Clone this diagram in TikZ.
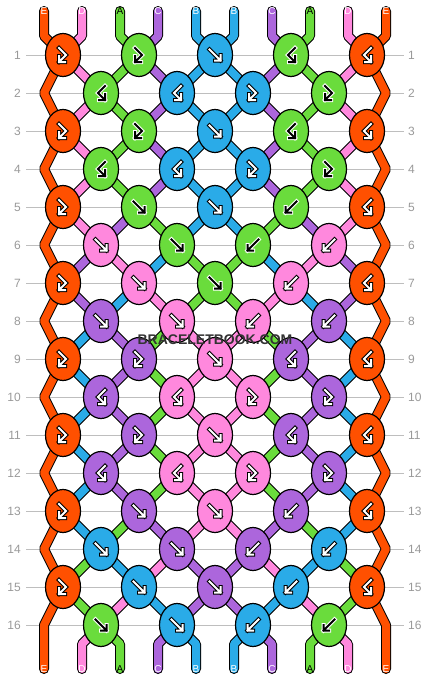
\documentclass[tikz,border=0pt]{standalone}
\usepackage{fontspec}
\setmainfont{Liberation Sans}
\usetikzlibrary{shapes.geometric}

\definecolor{thrA}{HTML}{6ADC3C}
\definecolor{thrB}{HTML}{2AABE8}
\definecolor{thrC}{HTML}{AC66DC}
\definecolor{thrD}{HTML}{FF88DD}
\definecolor{thrE}{HTML}{FF5000}
\colorlet{inkA}{black}
\colorlet{inkB}{white}
\colorlet{inkC}{white}
\colorlet{inkD}{white}
\colorlet{inkE}{white}
\colorlet{rimA}{white}
\colorlet{rimB}{black}
\colorlet{rimC}{black}
\colorlet{rimD}{black}
\colorlet{rimE}{black}
\definecolor{numgray}{HTML}{999999}
\definecolor{linegray}{HTML}{BEBEBE}
\definecolor{markgray}{HTML}{333333}

\pgfdeclarelayer{grid}
\pgfdeclarelayer{threads}
\pgfsetlayers{grid,threads,main}

\tikzset{
  knot/.style={ellipse,draw=black,line width=1.2pt,minimum width=35pt,minimum height=43pt,inner sep=0pt},
  thread/.style={draw=black,line width=1pt,double=#1,double distance=8pt,line join=bevel},
  strand/.style={thread=#1,line cap=round},
  tag/.style={font=\fontsize{10}{10}\selectfont,inner sep=0pt},
  rownum/.style={font=\fontsize{12}{12}\selectfont,text=numgray,inner sep=0pt},
  gridline/.style={draw=linegray,line width=1pt},
  glyph/.style={line width=#1,line cap=rect},
  gF/.style={insert path={(-5.5,-5.5) -- (5.5,5.5) (0,5.5) -- (5.5,5.5) -- (5.5,0)}},
  gB/.style={insert path={(5.5,-5.5) -- (-5.5,5.5) (0,5.5) -- (-5.5,5.5) -- (-5.5,0)}},
  gFB/.style={insert path={(-4,-7) -- (3,0) -- (-4,7) (-4,1) -- (-4,7) -- (2,7)}},
  gBF/.style={insert path={(4,-7) -- (-3,0) -- (4,7) (4,1) -- (4,7) -- (-2,7)}},
}

\begin{document}
\begin{tikzpicture}[x=1pt,y=-1pt]
\useasboundingbox (0,0) rectangle (430,680);

% row numbers and guide lines
\foreach \rw in {1,...,16}{
  \node[rownum,anchor=east] (nl-\rw) at (21,17+38*\rw) {\rw};
  \node[rownum,anchor=west] (nr-\rw) at (408,17+38*\rw) {\rw};
  \begin{pgfonlayer}{grid}
    \draw[gridline] ([xshift=5pt]nl-\rw.east) -- ([xshift=-4pt]nr-\rw.west);
  \end{pgfonlayer}
}

% thread ends
\foreach \col [count=\p from 0] in {E,D,A,C,B,B,C,A,D,E}{
  \node[tag,text=ink\col] (top-\p) at (44+38*\p,11) {\col};
  \node[tag,text=ink\col] (bot-\p) at (44+38*\p,669) {\col};
}

% edge turns
\foreach \rw in {2,4,...,16}{
  \coordinate (eL-\rw) at (44,17+38*\rw);
  \coordinate (eR-\rw) at (386,17+38*\rw);
}

% knots
\foreach \rw/\knots in {
  1/{E/FB,A/FB,B/F,A/BF,E/BF},
  2/{A/BF,B/BF,B/FB,A/FB},
  3/{E/FB,A/FB,B/F,A/BF,E/BF},
  4/{A/BF,B/BF,B/FB,A/FB},
  5/{E/FB,A/F,B/F,A/B,E/BF},
  6/{D/F,A/F,A/B,D/B},
  7/{E/FB,D/F,A/F,D/B,E/BF},
  8/{C/F,D/F,D/B,C/B},
  9/{E/FB,C/FB,D/F,C/BF,E/BF},
  10/{C/BF,D/BF,D/FB,C/FB},
  11/{E/FB,C/FB,D/F,C/BF,E/BF},
  12/{C/BF,D/BF,D/FB,C/FB},
  13/{E/FB,C/F,D/F,C/B,E/BF},
  14/{B/F,C/F,C/B,B/B},
  15/{E/FB,B/F,C/F,B/B,E/BF},
  16/{A/F,B/F,B/B,A/B}}{
  \foreach \col/\kind [count=\n from 0] in \knots{
    \pgfmathsetmacro\kx{63+76*\n+38*(1-mod(\rw,2))}
    \node[knot,fill=thr\col] (k-\rw-\n) at (\kx,17+38*\rw) {};
    \draw[glyph=4pt,draw=rim\col,shift={(k-\rw-\n.center)}] [g\kind];
    \draw[glyph=2pt,draw=ink\col,shift={(k-\rw-\n.center)}] [g\kind];
  }
}

\begin{pgfonlayer}{threads}
% links between rows
\foreach \rw/\seq in {
  1/{D,A,C,B,B,C,A,D},
  2/{D,A,C,B,B,C,A,D},
  3/{D,A,C,B,B,C,A,D},
  4/{D,A,C,B,B,C,A,D},
  5/{D,C,A,B,B,A,C,D},
  6/{C,D,B,A,A,B,D,C},
  7/{C,B,D,A,A,D,B,C},
  8/{B,C,A,D,D,A,C,B},
  9/{B,C,A,D,D,A,C,B},
  10/{B,C,A,D,D,A,C,B},
  11/{B,C,A,D,D,A,C,B},
  12/{B,C,A,D,D,A,C,B},
  13/{B,A,C,D,D,C,A,B},
  14/{A,B,D,C,C,D,B,A},
  15/{A,D,B,C,C,B,D,A}}{
  \pgfmathtruncatemacro\nx{\rw+1}
  \foreach \col [count=\p] in \seq{
    \pgfmathtruncatemacro\ja{(\p-1+mod(\rw,2))/2}
    \pgfmathtruncatemacro\jb{(\p-1+mod(\nx,2))/2}
    \draw[thread=thr\col] (k-\rw-\ja.center) -- (k-\nx-\jb.center);
  }
}
% strands in and out
\foreach \col [count=\p] in {D,A,C,B,B,C,A,D}{
  \pgfmathtruncatemacro\ja{\p/2}
  \pgfmathtruncatemacro\jb{(\p-1)/2}
  \draw[strand=thr\col] (top-\p.center) -- ++(0,25) -- (k-1-\ja.center);
  \draw[strand=thr\col] (k-16-\jb.center) -- (bot-\p.center |- 0,644) -- (bot-\p.center);
}
% edge strands
\draw[strand=thrE] (top-0.center) -- ++(0,25)
  \foreach \rw [evaluate=\rw as \nx using int(\rw+1)] in {1,3,...,15}{ -- (k-\rw-0.center) -- (eL-\nx) }
  -- (bot-0.center);
\draw[strand=thrE] (top-9.center) -- ++(0,25)
  \foreach \rw [evaluate=\rw as \nx using int(\rw+1)] in {1,3,...,15}{ -- (k-\rw-4.center) -- (eR-\nx) }
  -- (bot-9.center);
\end{pgfonlayer}

\node[font=\bfseries\fontsize{14}{14}\selectfont,text=markgray,inner sep=0pt] (mark) at (215,340) {BRACELETBOOK.COM};
\end{tikzpicture}
\end{document}
